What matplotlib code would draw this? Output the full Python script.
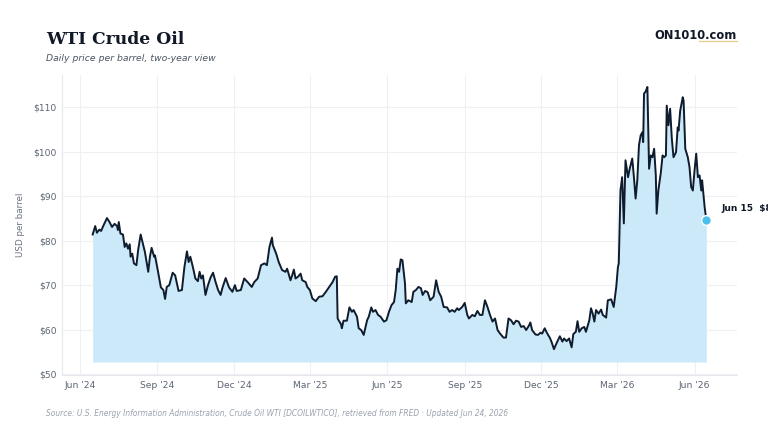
import matplotlib
matplotlib.use("Agg")
import matplotlib.pyplot as plt
import matplotlib.dates as mdates
from matplotlib.lines import Line2D
import pandas as pd

# ---------------- data ----------------
start_date = "2024-06-01"
day_offsets = [15, 18, 20, 23, 25, 28, 32, 35, 38, 41, 44, 45, 46, 48, 51, 53, 55, 57, 59, 60,
               62, 64, 67, 69, 72, 75, 77, 81, 83, 85, 88, 89, 92, 96, 99, 101, 103, 106, 110, 113,
               117, 121, 124, 127, 129, 131, 134, 137, 140, 142, 144, 146, 149, 152, 155, 158, 161, 164, 167, 169,
               173, 177, 181, 184, 186, 191, 195, 199, 204, 207, 211, 215, 219, 222, 225, 228, 229, 233, 236, 240,
               244, 246, 250, 252, 254, 256, 259, 262, 264, 268, 270, 273, 276, 280, 284, 288, 292, 296, 300, 303,
               305, 306, 310, 311, 313, 317, 320, 323, 325, 329, 331, 334, 337, 341, 343, 346, 348, 351, 354, 357,
               361, 364, 367, 370, 373, 375, 377, 379, 381, 383, 386, 387, 390, 394, 396, 399, 402, 405, 407, 410,
               413, 416, 420, 423, 426, 429, 432, 436, 439, 442, 445, 448, 450, 454, 457, 460, 462, 466, 469, 472,
               475, 478, 481, 484, 487, 490, 493, 496, 499, 503, 506, 509, 512, 515, 518, 521, 524, 527, 530, 533,
               535, 537, 541, 544, 547, 549, 552, 554, 556, 558, 560, 563, 566, 570, 573, 575, 578, 581, 584, 586,
               589, 591, 593, 596, 599, 601, 603, 605, 607, 609, 611, 613, 616, 619, 621, 625, 627, 631, 634, 637,
               639, 640, 642, 644, 646, 648, 651, 653, 656, 658, 660, 662, 664, 666, 668, 669, 670, 672, 674, 676,
               678, 680, 682, 684, 685, 687, 690, 692, 694, 696, 697, 699, 701, 703, 705, 708, 710, 711, 713, 716,
               717, 719, 722, 724, 726, 728, 730, 732, 734, 736, 738, 739, 742, 744]
prices = [81.4, 83.3, 81.8, 82.5, 82.2, 83.5, 85.1, 84.2, 83.1, 83.8, 83.3, 82.4, 84.2, 81.6, 81.4, 78.6, 79.4, 78.2, 79.2, 76.4,
          77.1, 74.9, 74.5, 77.9, 81.4, 79.0, 77.5, 73.0, 76.4, 78.4, 76.4, 76.7, 73.7, 69.5, 68.9, 66.9, 69.6, 70.0, 72.8, 72.2,
          68.7, 68.9, 74.1, 77.6, 75.2, 76.4, 74.1, 71.5, 70.9, 73.0, 71.5, 72.2, 67.8, 70.0, 71.7, 72.8, 70.7, 68.9, 67.8, 69.3,
          71.6, 69.5, 68.5, 70.0, 68.7, 68.9, 71.5, 70.7, 69.6, 70.7, 71.5, 74.5, 74.9, 74.5, 78.6, 80.7, 79.0, 77.1, 75.2, 73.4,
          73.0, 73.7, 71.1, 72.2, 73.5, 71.5, 71.9, 72.6, 71.1, 70.7, 69.6, 68.9, 67.0, 66.4, 67.4, 67.5, 68.5, 69.6, 70.7, 71.9,
          72.0, 62.5, 61.2, 60.3, 62.0, 62.0, 65.0, 64.0, 64.4, 62.9, 60.3, 59.9, 58.8, 62.1, 62.9, 65.0, 64.0, 64.4, 63.3, 62.9,
          61.8, 62.1, 64.0, 65.5, 66.2, 68.9, 73.7, 73.0, 75.8, 75.6, 70.4, 65.9, 66.6, 66.2, 68.5, 68.9, 69.6, 69.3, 67.8, 68.7,
          68.4, 66.6, 67.4, 71.1, 68.5, 67.4, 65.1, 65.0, 64.0, 64.4, 64.0, 64.8, 64.4, 65.1, 66.0, 63.3, 62.5, 63.3, 63.0, 64.2,
          63.3, 63.3, 66.6, 65.1, 63.3, 61.8, 62.5, 59.9, 59.1, 58.2, 58.2, 62.5, 62.1, 61.2, 62.0, 61.8, 60.6, 60.8, 59.9, 60.8,
          61.6, 59.9, 58.9, 58.8, 59.3, 59.1, 60.3, 59.5, 58.8, 58.2, 57.3, 55.6, 56.9, 58.5, 57.3, 58.0, 57.4, 58.0, 56.0, 59.0,
          59.5, 61.9, 59.5, 60.3, 60.6, 59.5, 60.8, 62.1, 64.8, 63.6, 61.8, 64.4, 63.6, 64.5, 63.3, 62.7, 66.6, 66.8, 65.1, 69.6,
          74.1, 74.9, 91.3, 94.3, 83.9, 98.1, 94.3, 96.2, 98.5, 94.3, 89.5, 93.6, 101.5, 103.7, 104.4, 102.2, 113.1, 113.6, 114.6, 96.2,
          99.2, 98.8, 100.7, 94.7, 86.1, 91.3, 95.4, 99.2, 98.8, 99.2, 110.4, 106.0, 109.7, 103.0, 98.8, 99.9, 105.5, 104.8, 109.3, 112.3,
          111.5, 100.7, 98.8, 96.6, 92.1, 91.3, 95.8, 99.6, 94.3, 94.7, 91.3, 93.6, 87.6, 84.6]
fill_base = 52.7
y_ticks = [50, 60, 70, 80, 90, 100, 110]
x_tick_dates = ["2024-06-01", "2024-09-01", "2024-12-01", "2025-03-01", "2025-06-01",
                "2025-09-01", "2025-12-01", "2026-03-01", "2026-06-01"]
x_tick_labels = ["Jun '24", "Sep '24", "Dec '24", "Mar '25", "Jun '25",
                 "Sep '25", "Dec '25", "Mar '26", "Jun '26"]
last_label = "Jun 15  $84.6"

dates = pd.Timestamp(start_date) + pd.to_timedelta(day_offsets, unit="D")

# ---------------- figure ----------------
fig = plt.figure(figsize=(7.68, 4.32), dpi=100)
W, H = 768, 432
ax = fig.add_axes([62 / W, 1 - 375 / H, (737 - 62) / W, (375 - 75) / H])

LINE = "#0f1c2e"
FILL = "#cbe9f9"
DOT = "#4cc0ec"
GRID = "#eef0f3"
TICK = "#5b6472"

ax.fill_between(dates, prices, fill_base, color=FILL, linewidth=0, zorder=1)
ax.plot(dates, prices, color=LINE, linewidth=1.4, zorder=3, solid_joinstyle="round")
ax.plot([dates[-1]], [prices[-1]], marker="o", markersize=7, color=DOT,
        markeredgecolor="white", markeredgewidth=1.0, zorder=4, linestyle="none")
ax.annotate(last_label, xy=(dates[-1], prices[-1]), xytext=(11, 8.5), textcoords="offset points",
            fontsize=6.5, fontweight="bold", color="#111827", ha="left", va="center",
            annotation_clip=False)

ax.margins(x=0.05)
ax.set_ylim(49.78, 117.3)
ax.set_yticks(y_ticks)
ax.set_yticklabels([f"${v}" for v in y_ticks])
ax.set_xticks(pd.to_datetime(x_tick_dates))
ax.set_xticklabels(x_tick_labels)

ax.grid(True, color=GRID, linewidth=0.8, zorder=0)
ax.set_axisbelow(True)
for s in ["top", "right"]:
    ax.spines[s].set_visible(False)
for s in ["left", "bottom"]:
    ax.spines[s].set_color("#e6e8ec")
    ax.spines[s].set_linewidth(0.8)
ax.tick_params(axis="both", length=0, labelsize=6.6, colors=TICK, pad=4)
ax.set_ylabel("USD per barrel", fontsize=6.3, color="#6b7280", labelpad=6)

# ---------------- texts ----------------
fig.text(46 / W, 1 - 43.5 / H, "WTI Crude Oil", family="DejaVu Serif", fontweight="bold",
         fontsize=12.3, color="#111827", ha="left", va="baseline")
fig.text(46 / W, 1 - 61 / H, "Daily price per barrel, two-year view", style="italic",
         fontsize=6.7, color="#4b5563", ha="left", va="baseline")
fig.text(737 / W, 1 - 39 / H, "ON1010.com", fontweight="bold", fontsize=8.3,
         color="#111827", ha="right", va="baseline")
fig.add_artist(Line2D([699 / W, 737 / W], [1 - 41 / H, 1 - 41 / H], color="#e2c26a",
                      linewidth=0.9, alpha=0.8))
fig.text(46 / W, 1 - 416 / H,
         "Source: U.S. Energy Information Administration, Crude Oil WTI [DCOILWTICO], retrieved from FRED \u00b7 Updated Jun 24, 2026",
         style="italic", fontsize=5.45, color="#9aa3af", ha="left", va="baseline")

fig.savefig("out.png", dpi=100)
